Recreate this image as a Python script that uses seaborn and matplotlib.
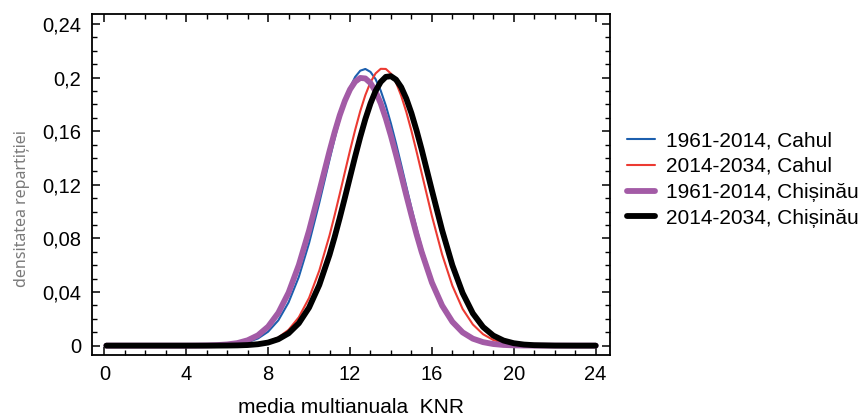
import numpy as np
import pandas as pd
import seaborn as sns
import matplotlib
matplotlib.use('Agg')
import matplotlib.pyplot as plt
from matplotlib.ticker import MultipleLocator, FixedLocator

# valori (densitate vs media multianuala KNR)
x_vals = [0.1, 1, 2, 3, 4, 4.5, 5, 5.5, 6, 6.5, 7, 7.5, 8, 8.5, 9, 9.5, 10, 10.5,
          11, 11.25, 11.5, 11.75, 12, 12.25, 12.5, 12.75, 13, 13.25, 13.5, 13.75,
          14, 14.25, 14.5, 14.75, 15, 15.25, 15.5, 16, 16.5, 17, 17.5,
          18, 18.5, 19, 19.5, 20, 20.5, 21, 22, 23, 24]

cahul_1961 = [0, 0, 0, 0, 0, 0.00002, 0.00007, 0.0002, 0.0005, 0.0012, 0.0026, 0.0053,
              0.0104, 0.0189, 0.0323, 0.0513, 0.0765, 0.1066,
              0.1388, 0.1545, 0.1691, 0.1820, 0.1926, 0.2005, 0.2052, 0.2065, 0.2043,
              0.1989, 0.1903, 0.1791, 0.1657, 0.1508, 0.1350, 0.1188, 0.1028, 0.0875, 0.0732,
              0.0487, 0.0303, 0.0177, 0.0096, 0.0049, 0.0023, 0.0010, 0.0004, 0.00015,
              0.00005, 0, 0, 0, 0]

cahul_2014 = [0, 0, 0, 0, 0, 0, 0.00001, 0.00003, 0.00009, 0.00023, 0.0006, 0.0014,
              0.0030, 0.0061, 0.0118, 0.0212, 0.0356, 0.0560,
              0.0823, 0.0974, 0.1133, 0.1295, 0.1456, 0.1609, 0.1750, 0.1870, 0.1966,
              0.2032, 0.2066, 0.2065, 0.2030, 0.1963, 0.1865, 0.1744, 0.1603, 0.1449, 0.1288,
              0.0968, 0.0680, 0.0447, 0.0274, 0.0158, 0.0085, 0.0042, 0.0020, 0.0009,
              0.0004, 0.00014, 0, 0, 0]

chisinau_1961 = [0, 0, 0, 0, 0, 0.00005, 0.00015, 0.0004, 0.0009, 0.0019, 0.0040, 0.0077,
                 0.0142, 0.0245, 0.0396, 0.0602, 0.0859, 0.1152,
                 0.1452, 0.1593, 0.1720, 0.1827, 0.1912, 0.1970, 0.1998, 0.1994, 0.1960,
                 0.1897, 0.1808, 0.1695, 0.1565, 0.1423, 0.1274, 0.1122, 0.0974, 0.0831, 0.0699,
                 0.0471, 0.0299, 0.0178, 0.0099, 0.0052, 0.0026, 0.0012, 0.0005, 0.0002,
                 0.00008, 0.00003, 0, 0, 0]

chisinau_2014 = [0, 0, 0, 0, 0, 0, 0.00001, 0.00003, 0.00007, 0.00018, 0.00045, 0.00105,
                 0.0023, 0.0048, 0.0092, 0.0167, 0.0284, 0.0453,
                 0.0678, 0.0811, 0.0954, 0.1104, 0.1258, 0.1411, 0.1557, 0.1691, 0.1807,
                 0.1901, 0.1968, 0.2006, 0.2011, 0.1985, 0.1929, 0.1844, 0.1735, 0.1606, 0.1464,
                 0.1159, 0.0861, 0.0600, 0.0393, 0.0241, 0.0139, 0.0075, 0.0038, 0.0018,
                 0.0008, 0.00034, 0.00005, 0, 0]

labels = ['1961-2014, Cahul', '2014-2034, Cahul', '1961-2014, Chișinău', '2014-2034, Chișinău']
x_ticks = [0, 4, 8, 12, 16, 20, 24]
y_ticks = [0, 0.04, 0.08, 0.12, 0.16, 0.2, 0.24]
y_tick_labels = ['0', '0,04', '0,08', '0,12', '0,16', '0,2', '0,24']

sns.set_theme(style='ticks')
plt.rcParams['font.family'] = ['Liberation Sans', 'DejaVu Sans']

fig = plt.figure(figsize=(8.61, 4.16), dpi=100)
ax = fig.add_axes([0.1069, 0.1466, 0.6016, 0.8197])

series = [cahul_1961, cahul_2014, chisinau_1961, chisinau_2014]
colors = ['#1c5fae', '#ec3a32', '#a35ba6', '#000000']
widths = [1.5, 1.5, 4.2, 4.2]
for s, c, w, lab in zip(series, colors, widths, labels):
    sns.lineplot(x=x_vals, y=s, ax=ax, color=c, linewidth=w, label=lab)

ax.set_xlim(-0.6, 24.7)
ax.set_ylim(-0.007, 0.2475)
ax.xaxis.set_major_locator(FixedLocator(x_ticks))
ax.xaxis.set_minor_locator(MultipleLocator(1))
ax.yaxis.set_major_locator(FixedLocator(y_ticks))
ax.yaxis.set_minor_locator(MultipleLocator(0.01))
ax.set_yticklabels(y_tick_labels)
ax.tick_params(which='both', direction='in', top=True, right=True, color='black')
ax.tick_params(which='major', length=6, width=1.1, labelsize=14.5, labelcolor='black')
ax.tick_params(axis='y', which='major', pad=8)
ax.tick_params(axis='x', which='major', pad=7)
ax.tick_params(which='minor', length=3.5, width=1.0)
for sp in ax.spines.values():
    sp.set_linewidth(1.3)
    sp.set_color('black')

ax.set_xlabel('media multianuala  KNR', fontsize=15, labelpad=10, color='black')
ax.set_ylabel('densitatea repartiției', fontsize=11.5, color='#7a7a7a',
              family=['Noto Sans', 'DejaVu Sans'], fontweight='light')
ax.yaxis.set_label_coords(-0.12, 0.43)

ax.legend(loc='center left', bbox_to_anchor=(1.033, 0.515), frameon=False,
          fontsize=15, handlelength=1.35, handletextpad=0.5, labelspacing=0.33,
          borderaxespad=0, borderpad=0, labelcolor='black')

fig.savefig('out.png', dpi=100)
